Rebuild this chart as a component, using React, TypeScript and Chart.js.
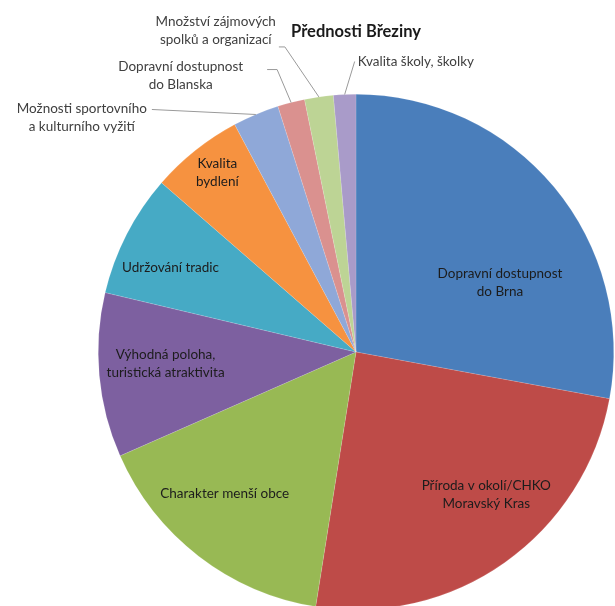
import React, { useEffect, useRef } from "react";
import { Chart, registerables } from "chart.js";

Chart.register(...registerables);

const categories = [
  "Dopravní dostupnost do Brna",
  "Příroda v okolí/CHKO Moravský Kras",
  "Charakter menší obce",
  "Výhodná poloha, turistická atraktivita",
  "Udržování tradic",
  "Kvalita bydlení",
  "Možnosti sportovního a kulturního vyžití",
  "Dopravní dostupnost do Blanska",
  "Množství zájmových spolků a organizací",
  "Kvalita školy, školky",
];

const labelLines = [
  ["Dopravní dostupnost", "do Brna"],
  ["Příroda v okolí/CHKO", "Moravský Kras"],
  ["Charakter menší obce"],
  ["Výhodná poloha,", "turistická atraktivita"],
  ["Udržování tradic"],
  ["Kvalita", "bydlení"],
  ["Možnosti sportovního", "a kulturního vyžití"],
  ["Dopravní dostupnost", "do Blanska"],
  ["Množství zájmových", "spolků a organizací"],
  ["Kvalita školy, školky"],
];

const values = [27.9, 24.6, 15.9, 10.3, 7.7, 5.8, 2.9, 1.7, 1.8, 1.4];

const title = "Přednosti Březiny";

const colors = [
  "#4A7EBB",
  "#BE4B48",
  "#98B954",
  "#7D60A0",
  "#46AAC5",
  "#F69240",
  "#8FA8D8",
  "#DA918F",
  "#BDD495",
  "#A99BC9",
];

// label placement (layout only)
type Place =
  | { inside: true; t: number; r: number }
  | {
      inside: false;
      path: number[][];
      align: "left" | "right";
      dx: number;
      dy: number;
    };

const placements: Place[] = [
  { inside: true, t: 0.64, r: 0.62 },
  { inside: true, t: 0.42, r: 0.75 },
  { inside: true, t: 0.59, r: 0.75 },
  { inside: true, t: 0.55, r: 0.74 },
  { inside: true, t: 0.4, r: 0.79 },
  { inside: true, t: 0.54, r: 0.88 },
  { inside: false, path: [[0, 0], [-104, -5]], align: "right", dx: -5, dy: -1 },
  { inside: false, path: [[0, 0], [-14, -33], [-24, -33]], align: "right", dx: -24, dy: -3 },
  { inside: false, path: [[0, 0], [-34, -50], [-40, -50]], align: "right", dx: -3, dy: -25 },
  { inside: false, path: [[0, 0], [10, -33]], align: "left", dx: 3, dy: 0 },
];

const FONT = "Lato, 'Open Sans', sans-serif";
const LINE_H = 18;

const labelPlugin = {
  id: "sliceLabels",
  afterDatasetsDraw(chart: any) {
    const ctx: CanvasRenderingContext2D = chart.ctx;
    const meta = chart.getDatasetMeta(0);
    ctx.save();
    ctx.textBaseline = "middle";
    meta.data.forEach((arc: any, i: number) => {
      const { x, y, startAngle, endAngle, outerRadius } = arc.getProps(
        ["x", "y", "startAngle", "endAngle", "outerRadius"],
        true
      );
      const p = placements[i];
      const lines = labelLines[i];
      ctx.font = `13.5px ${FONT}`;
      if (p.inside) {
        const a = startAngle + (endAngle - startAngle) * p.t;
        const r = outerRadius * p.r;
        const cx = x + Math.cos(a) * r;
        const cy = y + Math.sin(a) * r;
        ctx.fillStyle = "#1c1c1c";
        ctx.textAlign = "center";
        const y0 = cy - ((lines.length - 1) * LINE_H) / 2;
        lines.forEach((ln, k) => ctx.fillText(ln, cx, y0 + k * LINE_H));
      } else {
        const a = (startAngle + endAngle) / 2;
        const px = x + Math.cos(a) * outerRadius;
        const py = y + Math.sin(a) * outerRadius;
        ctx.strokeStyle = "#9a9a9a";
        ctx.lineWidth = 1;
        ctx.beginPath();
        p.path.forEach(([dx, dy], k) => {
          if (k === 0) ctx.moveTo(px + dx, py + dy);
          else ctx.lineTo(px + dx, py + dy);
        });
        ctx.stroke();
        const last = p.path[p.path.length - 1];
        const qx = px + last[0] + p.dx;
        const qy = py + last[1] + p.dy;
        const widths = lines.map((ln) => ctx.measureText(ln).width);
        const maxW = Math.max(...widths);
        const centerX = p.align === "right" ? qx - maxW / 2 : qx + maxW / 2;
        ctx.fillStyle = "#404040";
        ctx.textAlign = "center";
        lines.forEach((ln, k) => ctx.fillText(ln, centerX, qy + k * LINE_H));
      }
    });
    // title
    ctx.font = `bold 16.5px ${FONT}`;
    ctx.fillStyle = "#1a1a1a";
    ctx.textAlign = "center";
    const area = chart.chartArea;
    ctx.fillText(title, (area.left + area.right) / 2, 32);
    ctx.restore();
  },
};

const W = 720;
const H = 720;

export default function App() {
  const ref = useRef<HTMLCanvasElement>(null);
  useEffect(() => {
    if (!ref.current) return;
    const chart = new Chart(ref.current, {
      type: "pie",
      data: {
        labels: categories,
        datasets: [
          {
            data: values,
            backgroundColor: colors,
            borderColor: "rgba(255,255,255,0.25)",
            borderWidth: 0.5,
          },
        ],
      },
      options: {
        responsive: false,
        maintainAspectRatio: false,
        animation: false,
        layout: {
          padding: { left: 98, top: 94, right: W - 614, bottom: H - 610 },
        },
        plugins: {
          legend: { display: false },
          tooltip: { enabled: false },
          title: { display: false },
        },
      },
      plugins: [labelPlugin],
    });
    return () => chart.destroy();
  }, []);
  return (
    <div
      style={{
        position: "fixed",
        left: 0,
        top: 0,
        width: 615,
        height: 606,
        overflow: "hidden",
        background: "#fff",
      }}
    >
      <canvas ref={ref} width={W} height={H} style={{ width: W, height: H, display: "block" }} />
    </div>
  );
}
